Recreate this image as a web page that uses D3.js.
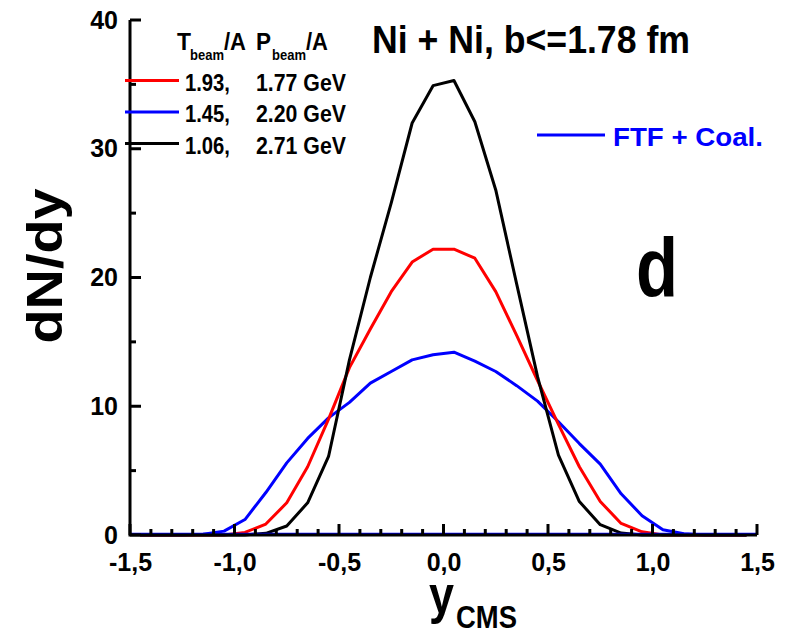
<!DOCTYPE html>
<html>
<head>
<meta charset="utf-8">
<script src="https://cdn.jsdelivr.net/npm/d3@7/dist/d3.min.js"></script>
<style>
  html, body { margin: 0; padding: 0; background: #fff; }
  svg { display: block; }
  text { font-family: Arial, "Liberation Sans", sans-serif; font-weight: bold; }
</style>
</head>
<body>
<svg id="chart" width="787" height="636"></svg>
<script>
// Rapidity bin centres (y_CMS)
const yBins = [-1.45, -1.35, -1.25, -1.15, -1.05, -0.95, -0.85, -0.75, -0.65, -0.55,
               -0.45, -0.35, -0.25, -0.15, -0.05, 0.05, 0.15, 0.25, 0.35, 0.45,
               0.55, 0.65, 0.75, 0.85, 0.95, 1.05, 1.15, 1.25, 1.35, 1.45];

// dN/dy for deuterons, Ni + Ni, b <= 1.78 fm
const dndyT193 = [0, 0, 0, 0, 0, 0.2, 0.85, 2.5, 5.3, 9.0,
                  13.0, 16.0, 18.9, 21.2, 22.2, 22.2, 21.5, 18.9, 15.5, 12.0,
                  8.6, 5.3, 2.6, 0.9, 0.25, 0, 0, 0, 0, 0];
const dndyT145 = [0, 0, 0, 0.05, 0.3, 1.2, 3.3, 5.6, 7.5, 9.1,
                  10.3, 11.8, 12.7, 13.6, 14.0, 14.2, 13.5, 12.7, 11.6, 10.4,
                  8.8, 7.1, 5.5, 3.2, 1.5, 0.4, 0.1, 0, 0, 0];
const dndyT106 = [0, 0, 0, 0, 0, 0, 0.13, 0.7, 2.5, 6.1,
                  13.6, 20.0, 25.8, 32.0, 34.9, 35.3, 32.1, 26.8, 19.5, 12.3,
                  6.2, 2.6, 0.8, 0.15, 0, 0, 0, 0, 0, 0];
// Small additional yield lying along the axis
const baselineY = [-1.5, 1.5];
const baselineVals = [0.05, 0.05];

const legendRows = [
  { t: "1.93,", p: "1.77 GeV", color: "#ff0000" },
  { t: "1.45,", p: "2.20 GeV", color: "#0000ff" },
  { t: "1.06,", p: "2.71 GeV", color: "#000000" }
];
const xTicks = [-1.5, -1.0, -0.5, 0.0, 0.5, 1.0, 1.5];
const xMinorTicks = [-1.4, -1.3, -1.2, -1.1, -0.9, -0.8, -0.7, -0.6, -0.4, -0.3, -0.2, -0.1,
                     0.1, 0.2, 0.3, 0.4, 0.6, 0.7, 0.8, 0.9, 1.1, 1.2, 1.3, 1.4];
const yTicks = [0, 10, 20, 30, 40];
const yMinorTicks = [5, 15, 25, 35];

const svg = d3.select("#chart");
const x = d3.scaleLinear().domain([-1.5, 1.5]).range([130, 757]);
const y = d3.scaleLinear().domain([0, 40]).range([535, 20]);

const fmtX = d => d3.format(".1f")(d).replace(".", ",").replace("−", "-");

// Axis labels from d3 axes
const xAxis = d3.axisBottom(x).tickValues(xTicks).tickSize(0).tickPadding(18).tickFormat(fmtX);
const yAxis = d3.axisLeft(y).tickValues(yTicks).tickSize(0).tickPadding(12).tickFormat(d3.format("d"));

function styleAxis(g) {
  g.select("path.domain").remove();
  g.selectAll(".tick line").remove();
  g.selectAll(".tick text").attr("font-size", 25).attr("fill", "#000")
    .attr("font-family", "Arial, 'Liberation Sans', sans-serif").attr("font-weight", "bold");
}
svg.append("g").attr("transform", "translate(0,535)").call(xAxis).call(styleAxis);
svg.append("g").attr("transform", "translate(130,0)").call(yAxis).call(styleAxis);

// Curves
const line = d3.line().x(d => x(d[0])).y(d => y(d[1]));
const series = [
  { vals: dndyT145, color: "#0000ff" },
  { vals: dndyT193, color: "#ff0000" },
  { vals: dndyT106, color: "#000000" }
];
series.forEach(s => {
  svg.append("path")
    .datum(yBins.map((b, i) => [b, s.vals[i]]))
    .attr("d", line)
    .attr("fill", "none")
    .attr("stroke", s.color)
    .attr("stroke-width", 3)
    .attr("stroke-linejoin", "round");
});
svg.append("path")
  .datum(baselineY.map((b, i) => [b, baselineVals[i]]))
  .attr("d", line)
  .attr("fill", "none")
  .attr("stroke", "#0000ff")
  .attr("stroke-width", 3);

// Axis lines and inward tick marks
const frame = svg.append("g").attr("fill", "none").attr("stroke", "#000000").attr("stroke-width", 3);
frame.append("path").attr("d", `M${x(-1.5)},${y(40)}L${x(-1.5)},${y(0)}L${x(1.5)},${y(0)}`);
frame.selectAll(".xt").data(xTicks).join("path").attr("class", "xt")
  .attr("d", d => `M${x(d)},${y(0)}L${x(d)},${y(0) - 11}`);
frame.selectAll(".xm").data(xMinorTicks).join("path").attr("class", "xm")
  .attr("d", d => `M${x(d)},${y(0)}L${x(d)},${y(0) - 6}`);
frame.selectAll(".yt").data(yTicks).join("path").attr("class", "yt")
  .attr("d", d => `M${x(-1.5)},${y(d)}L${x(-1.5) + 11},${y(d)}`);
frame.selectAll(".ym").data(yMinorTicks).join("path").attr("class", "ym")
  .attr("d", d => `M${x(-1.5)},${y(d)}L${x(-1.5) + 6},${y(d)}`);

function label(xp, yp, str, size, opts = {}) {
  const t = svg.append("text")
    .attr("x", xp).attr("y", yp)
    .attr("font-size", size)
    .attr("fill", opts.fill || "#000")
    .attr("text-anchor", opts.anchor || "start")
    .text(str);
  if (opts.len) t.attr("textLength", opts.len).attr("lengthAdjust", "spacingAndGlyphs");
  return t;
}

// Title and panel letter
label(372, 53, "Ni + Ni, b<=1.78 fm", 39, { len: 318 });
label(636, 297, "d", 84, { len: 42 });

// Legend header: T_beam/A  P_beam/A
label(177, 50, "T", 23, { len: 14 });
label(190, 60, "beam", 15, { len: 34 });
label(224, 50, "/A", 23, { len: 22 });
label(256, 50, "P", 23, { len: 15 });
label(272, 60, "beam", 15, { len: 34 });
label(306, 50, "/A", 23, { len: 22 });

// Legend rows
legendRows.forEach((r, i) => {
  const ly = 80.5 + i * 31.5;
  svg.append("line")
    .attr("x1", 125).attr("x2", 179).attr("y1", ly).attr("y2", ly)
    .attr("stroke", r.color).attr("stroke-width", 3);
  label(185, ly + 10, r.t, 24, { len: 45 });
  label(256, ly + 10, r.p, 24, { len: 90 });
});

// Model legend
svg.append("line").attr("x1", 537).attr("x2", 605).attr("y1", 135).attr("y2", 135)
  .attr("stroke", "#0000ff").attr("stroke-width", 3);
label(613, 146, "FTF + Coal.", 26, { fill: "#0000ff", len: 150 });

// Axis titles
label(0, 0, "dN/dy", 50, { anchor: "middle", len: 155 })
  .attr("transform", "translate(62,266) rotate(-90)");
label(429, 613, "y", 54, { len: 25 });
label(456, 628, "CMS", 32, { len: 61 });
</script>
</body>
</html>
